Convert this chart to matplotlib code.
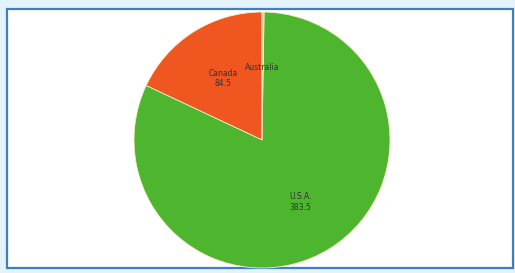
import matplotlib.pyplot as plt
from matplotlib.patches import Rectangle

countries = ['Canada', 'U.S.A.', 'Australia']
values = [84.5, 383.5, 1.2]
labels = ['Canada\n84.5', 'U.S.A.\n383.5', 'Australia']
colors = ['#f0561f', '#4db52e', '#f3c96a']

fig = plt.figure(figsize=(5.15, 2.73), dpi=100, facecolor='#e4f2fa')

# white panel with blue frame, behind the pie
fig.patches.append(Rectangle((7 / 515, 5 / 273), 506 / 515, 259 / 273,
                             transform=fig.transFigure, facecolor='white',
                             edgecolor='#3f7fbf', linewidth=1.6, zorder=-1))

ax = fig.add_axes([134 / 515, 5 / 273, 256 / 515, 256 / 273])
wedges, texts = ax.pie(values, labels=labels, colors=colors, startangle=90,
                       counterclock=True, labeldistance=0.57,
                       wedgeprops={'edgecolor': '#fbe9c8', 'linewidth': 0.6},
                       textprops={'fontsize': 5.5, 'color': '#333333', 'ha': 'center'})
ax.set_xlim(-1.0, 1.0)
ax.set_ylim(-1.0, 1.0)
ax.set_aspect('equal')

plt.savefig('out.png', dpi=100, facecolor=fig.get_facecolor())
